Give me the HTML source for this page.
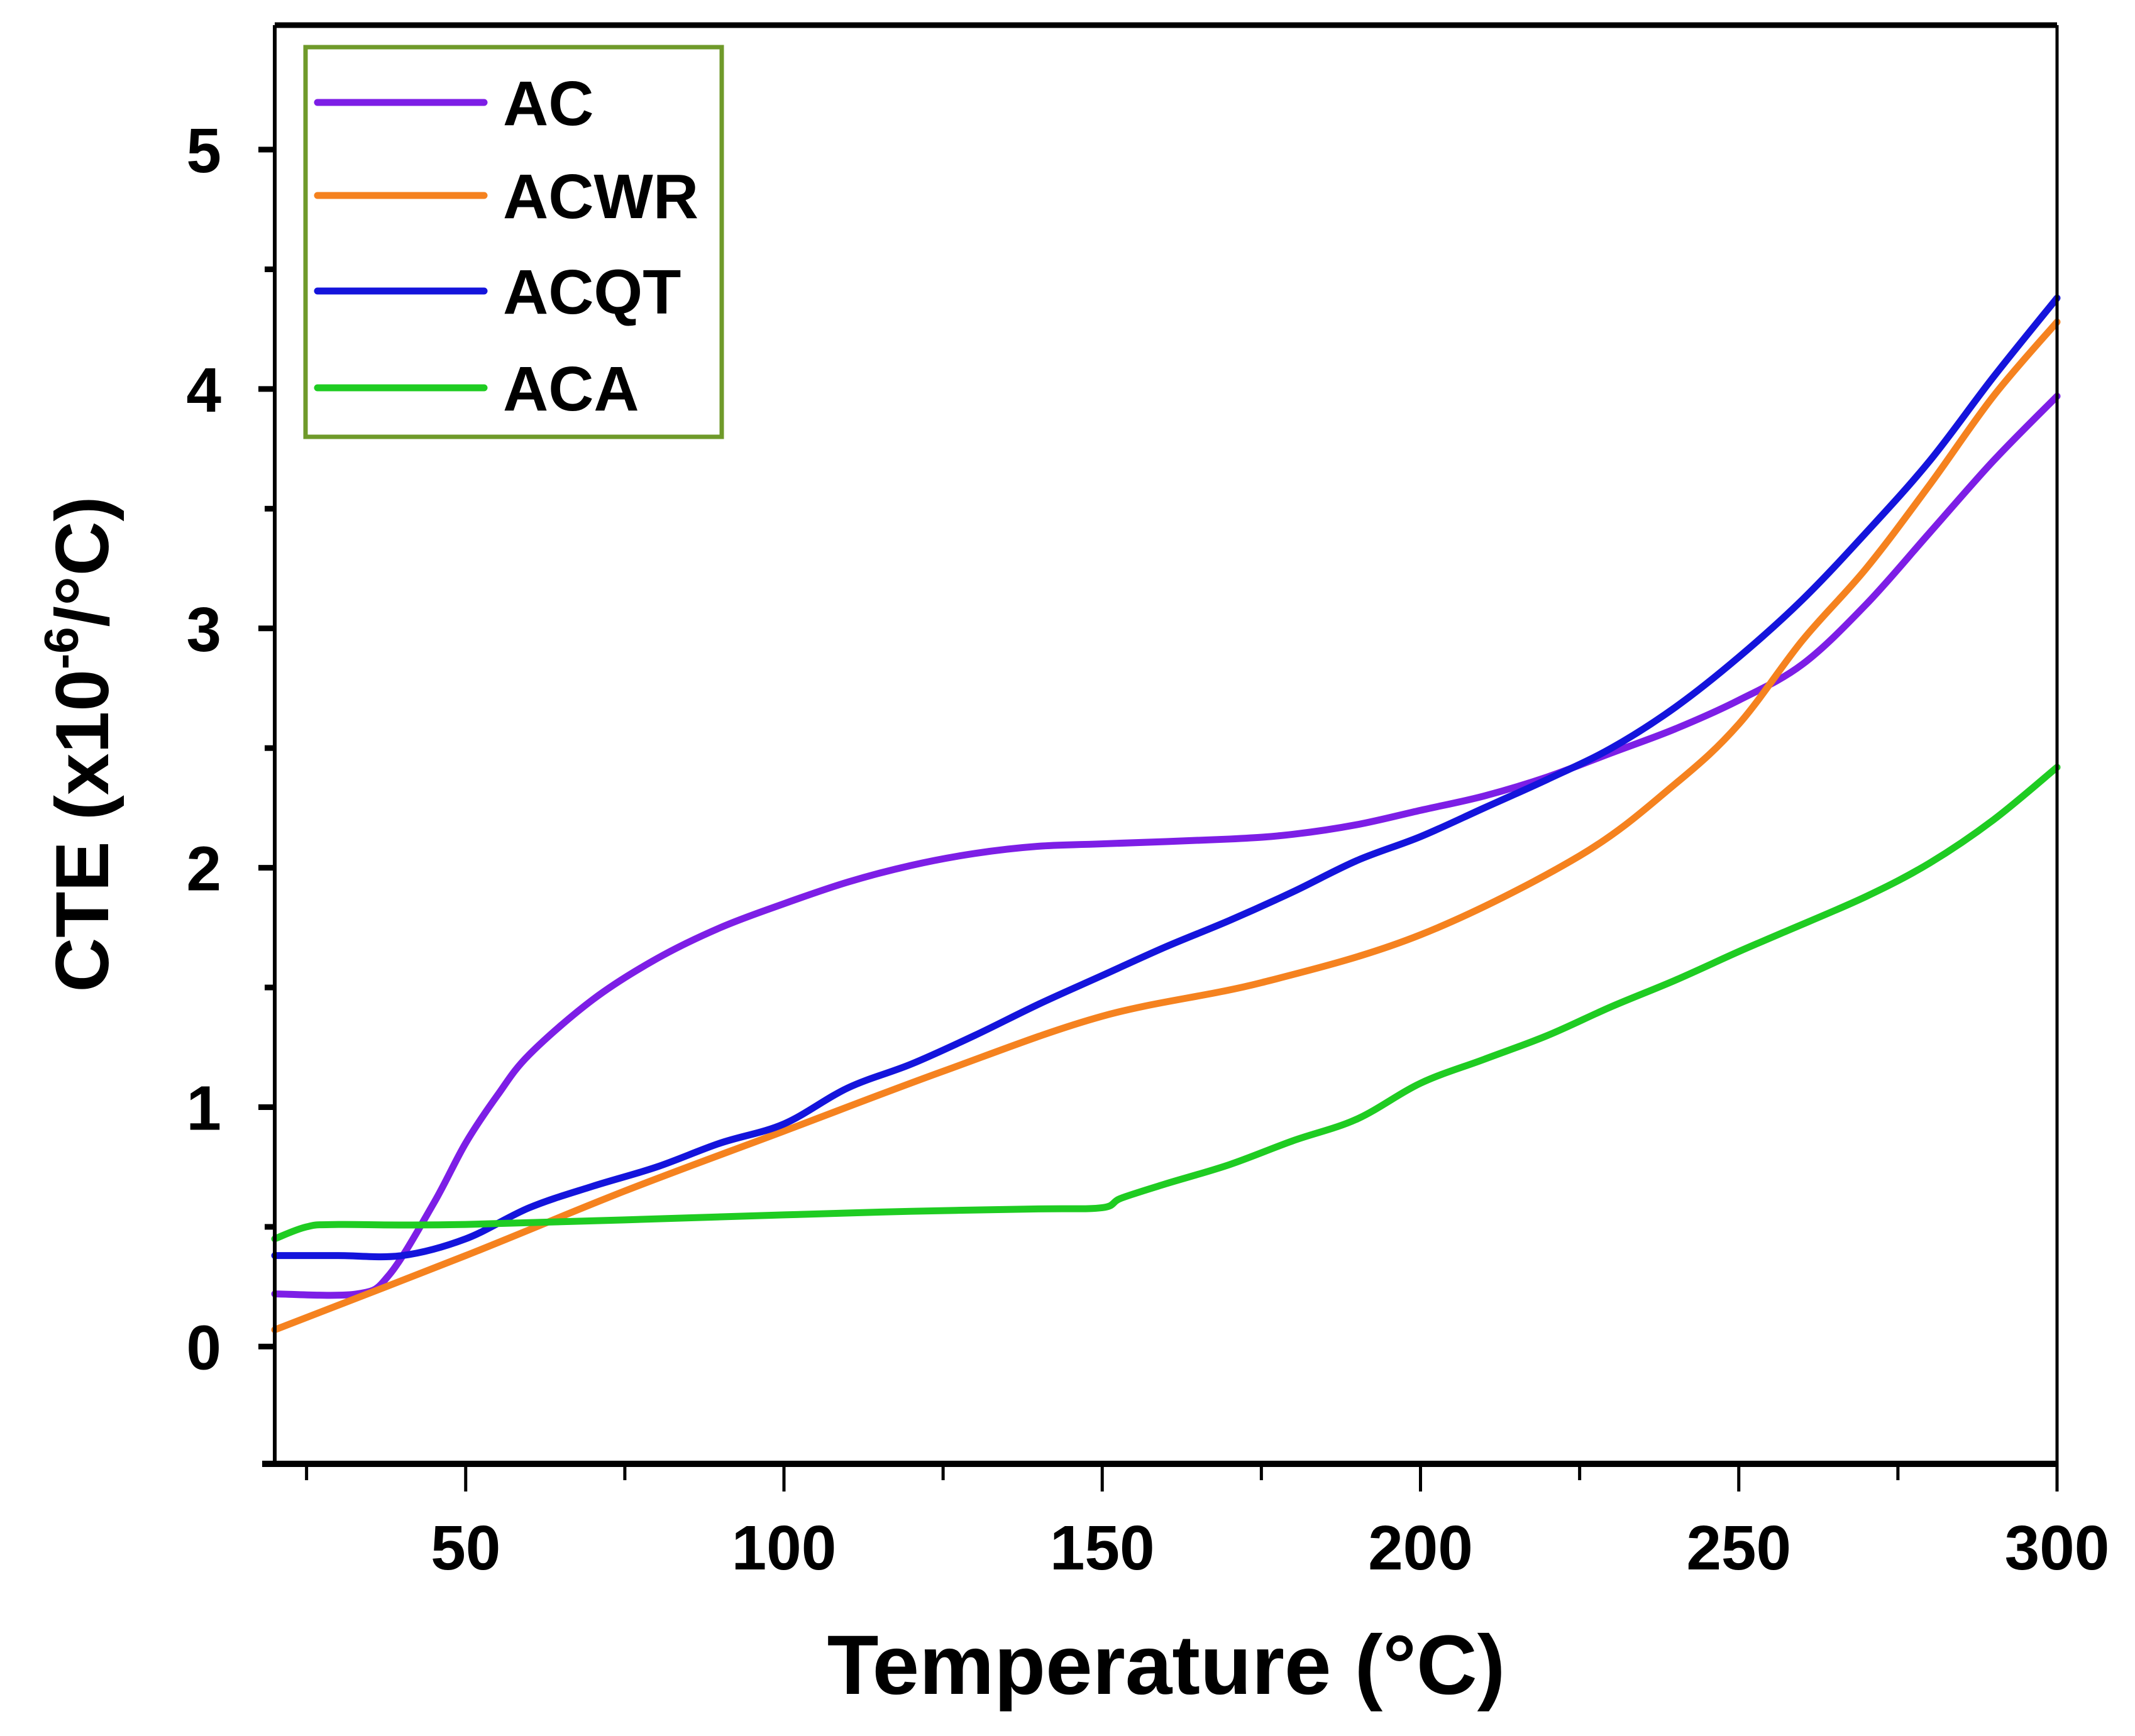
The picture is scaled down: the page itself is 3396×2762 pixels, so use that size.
<!DOCTYPE html>
<html><head><meta charset="utf-8"><style>
html,body{margin:0;padding:0;background:#fff;}
svg{display:block;font-family:"Liberation Sans",Arial,sans-serif;font-weight:bold;}
</style></head><body>
<svg id="chart" width="3396" height="2762" viewBox="0 0 3396 2762"></svg>
<script>
const categories=["AC","ACWR","ACQT","ACA"];
const colors=["#7d1ee6","#f5821f","#1414dc","#1fcc22"];
const acX=[20,33,38,45,50,55,60,70,80,90,100,110,120,130,140,150,170,180,190,200,210,220,230,240,250,260,270,280,290,300];
const acY=[0.22,0.22,0.3,0.6,0.85,1.05,1.22,1.45,1.62,1.75,1.85,1.94,2.01,2.06,2.09,2.1,2.12,2.14,2.18,2.24,2.3,2.38,2.48,2.58,2.7,2.85,3.1,3.4,3.7,3.97];
const acwrX=[20,50,75,100,125,150,175,200,225,240,250,260,270,280,290,300];
const acwrY=[0.07,0.38,0.65,0.9,1.15,1.38,1.52,1.72,2.05,2.35,2.6,2.95,3.25,3.6,3.97,4.28];
const acqtX=[20,30,40,50,60,70,80,90,100,110,120,130,140,150,160,170,180,190,200,210,220,230,240,250,260,270,280,290,300];
const acqtY=[0.38,0.38,0.38,0.45,0.58,0.67,0.75,0.85,0.93,1.08,1.18,1.3,1.43,1.55,1.67,1.78,1.9,2.03,2.13,2.25,2.37,2.5,2.67,2.88,3.12,3.4,3.7,4.05,4.38];
const acaX=[20,25,30,50,100,120,140,150,153,160,170,180,190,200,210,220,230,240,250,257,270,280,290,300];
const acaY=[0.45,0.5,0.51,0.51,0.55,0.565,0.575,0.58,0.62,0.68,0.76,0.86,0.95,1.1,1.2,1.3,1.42,1.53,1.65,1.73,1.88,2.02,2.2,2.42];
const xTicks=[50,100,150,200,250,300];
const yTicks=[0,1,2,3,4,5];

const L=437,R=3272,T=40,B=2329,X0=20,X1=300,Y0=-0.49,Y1=5.52;
const sx=v=>L+(v-X0)/(X1-X0)*(R-L);
const sy=v=>B-(v-Y0)/(Y1-Y0)*(B-T);
const svg=document.getElementById('chart');
const NS="http://www.w3.org/2000/svg";
function mk(tag,attrs,parent){const e=document.createElementNS(NS,tag);for(const k in attrs)e.setAttribute(k,attrs[k]);(parent||svg).appendChild(e);return e;}
function path(xs,ys){const p=xs.map((x,i)=>[sx(x),sy(ys[i])]);let d=`M${p[0][0]},${p[0][1]}`;
for(let i=0;i<p.length-1;i++){const p0=p[Math.max(0,i-1)],p1=p[i],p2=p[i+1],p3=p[Math.min(p.length-1,i+2)];
const c1=[p1[0]+(p2[0]-p0[0])/6,p1[1]+(p2[1]-p0[1])/6],c2=[p2[0]-(p3[0]-p1[0])/6,p2[1]-(p3[1]-p1[1])/6];
d+=` C${c1[0]},${c1[1]} ${c2[0]},${c2[1]} ${p2[0]},${p2[1]}`;}return d;}

const series=[[acX,acY],[acwrX,acwrY],[acqtX,acqtY],[acaX,acaY]];
const g=mk('g',{});


series.forEach((s,i)=>{const e=mk('path',{d:path(s[0],s[1]),fill:'none',stroke:colors[i],'stroke-width':11,'stroke-linejoin':'round','stroke-linecap':'round'},g);

});

const ax=mk('g',{stroke:'#000'});


mk('line',{x1:L,y1:T,x2:R,y2:T,'stroke-width':9},ax);
mk('line',{x1:L-20,y1:B,x2:R,y2:B,'stroke-width':10},ax);
mk('line',{x1:L,y1:T,x2:L,y2:B,'stroke-width':6},ax);
mk('line',{x1:R,y1:T,x2:R,y2:B,'stroke-width':5},ax);
for(let v=25;v<=300;v+=25){const maj=v%50===0;mk('line',{x1:sx(v),y1:B,x2:sx(v),y2:B+(maj?44:26),'stroke-width':5},ax);}
for(let v=0;v<=5;v+=0.5){const maj=Number.isInteger(v);mk('line',{x1:L,y1:sy(v),x2:L-(maj?26:16),y2:sy(v),'stroke-width':9},ax);}
xTicks.forEach(v=>{const t=mk('text',{x:sx(v),y:2497,'font-size':100,'text-anchor':'middle',fill:'#000'});t.textContent=v;

});
yTicks.forEach(v=>{const t=mk('text',{x:352,y:sy(v)+36,'font-size':100,'text-anchor':'end',fill:'#000'});t.textContent=v;

});
const xt=mk('text',{x:1855,y:2695,'font-size':134,'text-anchor':'middle',fill:'#000'});xt.textContent='Temperature (°C)';


const yt=mk('text',{x:0,y:0,'font-size':120,'text-anchor':'middle',fill:'#000',transform:'translate(172,1184) rotate(-90)'});
yt.innerHTML='CTE (x10<tspan dy="-48" font-size="76">-6</tspan><tspan dy="48">/°C)</tspan>';



const lg=mk('g',{});


mk('rect',{x:486,y:75,width:662,height:620,fill:'#fff',stroke:'#6f9a2a','stroke-width':7},lg);
const ly=[163,311,463,617];
categories.forEach((c,i)=>{const e=mk('g',{},lg);


mk('line',{x1:505,y1:ly[i],x2:770,y2:ly[i],stroke:colors[i],'stroke-width':11,'stroke-linecap':'round'},e);
const t=mk('text',{x:800,y:ly[i]+36,'font-size':100,fill:'#000'},e);t.textContent=c;});
</script>
</body></html>
